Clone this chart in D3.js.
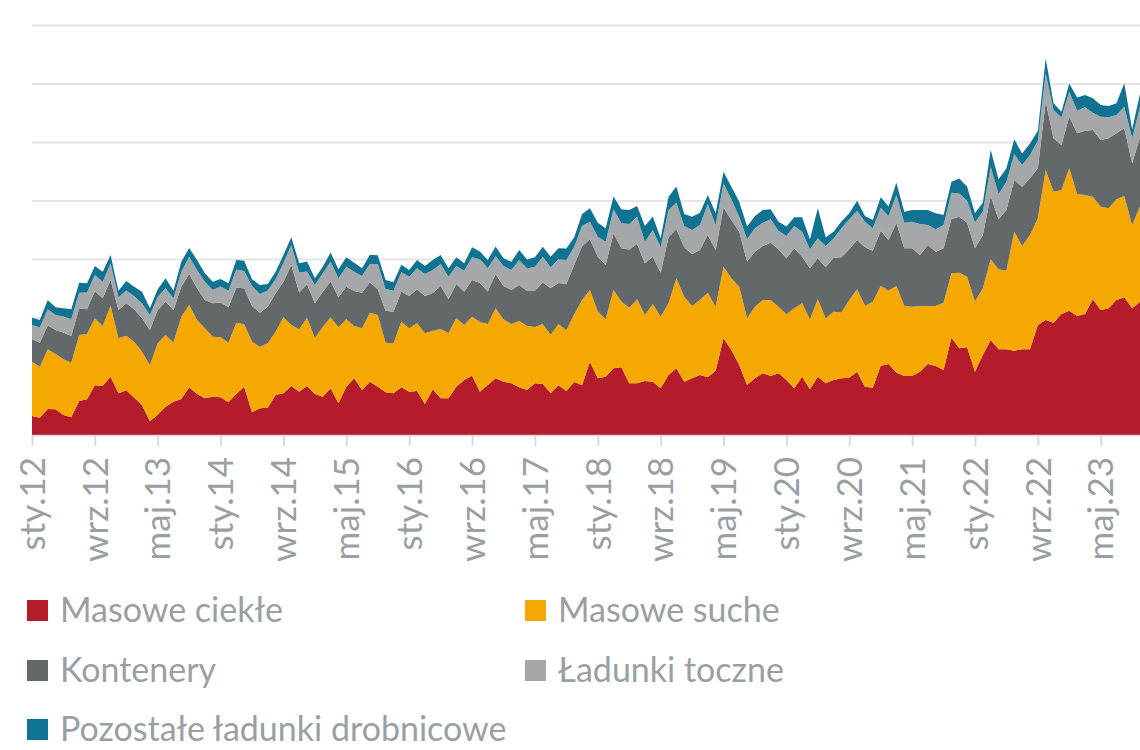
<!DOCTYPE html>
<html>
<head>
<meta charset="utf-8">
<script src="https://cdn.jsdelivr.net/npm/d3@7"></script>
<style>
  html, body { margin: 0; padding: 0; background: #ffffff; }
  svg { display: block; }
  text { font-family: Lato, "Open Sans", "Liberation Sans", sans-serif; }
</style>
</head>
<body>
<svg id="chart" width="1140" height="750"></svg>
<script>
// ---- data (thousand tonnes per month, Jan 2012 – Oct 2023) ----
const monthAbbr = ["sty","lut","mar","kwi","maj","cze","lip","sie","wrz","paź","lis","gru"];
const tickLabels = ["sty.12","wrz.12","maj.13","sty.14","wrz.14","maj.15","sty.16","wrz.16","maj.17",
  "sty.18","wrz.18","maj.19","sty.20","wrz.20","maj.21","sty.22","wrz.22","maj.23"];
const seriesNames = ["Masowe ciekłe","Masowe suche","Kontenery","Ładunki toczne","Pozostałe ładunki drobnicowe"];
const seriesColors = ["#B41B2B","#F5A800","#63686B","#A5A8AB","#0F7391"];

const masoweCiekle = [325,296,444,439,342,302,581,610,849,843,997,712,764,638,513,234,348,484,570,615,815,701,627,655,
  644,558,701,826,387,456,467,684,712,838,741,838,701,655,798,541,826,969,769,912,826,729,712,815,
  741,752,530,781,627,627,826,940,1014,741,855,969,912,883,815,769,883,872,712,849,752,906,849,
  1254,969,997,1140,1157,883,883,923,912,798,1026,1140,912,969,1026,986,1100,1652,1453,1197,855,969,1054,
  1009,1054,940,798,997,781,997,883,940,969,980,1083,826,809,1185,1214,1066,1009,1009,1083,1214,1179,1111,
  1664,1481,1499,1083,1368,1624,1464,1464,1442,1464,1464,1880,1966,1920,2068,2125,2034,2068,2319,2137,2165,2308,2353,2165,2279];
const masoweSuche = [929,872,1020,946,952,934,1128,1117,1145,1020,1214,940,934,957,912,963,1219,1225,1009,1407,1407,1265,1197,1026,
  1026,1020,1219,1066,1208,1054,1100,1083,1299,1043,1066,1168,952,1197,1214,1299,1151,895,1054,1179,1225,849,855,1123,
  1083,1157,1208,1003,1185,1117,1174,940,1009,1197,1043,1197,1066,1014,1134,1094,963,1026,1003,1048,1037,1157,1459,
  1225,1140,980,1339,1123,1293,1436,1128,1328,1225,1225,1538,1453,1236,1282,1447,1094,1225,1225,1339,1140,1225,1254,
  1299,1140,1123,1368,1254,1197,1322,1111,1168,1123,1328,1407,1385,1470,1362,1254,1481,1202,1185,1123,991,1026,1151,
  1100,1293,1208,1197,1140,1379,1368,1345,2034,1766,1954,1823,2564,2239,2120,2433,2085,2034,1755,1766,1709,1721,1732,1425,1630];
const kontenery = [387,410,410,410,456,462,456,422,462,473,439,484,553,553,570,598,570,570,558,513,530,541,484,570,
  593,604,598,615,610,581,627,655,610,1026,627,570,598,598,610,513,558,598,610,518,439,547,541,513,
  553,581,638,644,735,581,581,570,627,661,553,587,570,581,615,598,621,707,798,701,792,843,920,
  866,940,929,969,912,997,946,883,809,752,1128,838,843,889,855,986,969,1014,997,940,969,940,923,
  980,980,957,1026,798,872,701,872,923,946,866,843,997,872,946,866,1083,980,997,872,1043,929,929,
  929,957,923,912,912,1083,855,1037,883,1014,969,855,1168,912,769,883,1037,1100,1140,1140,1197,1128,1157,1054,1180];
const ladunkiToczne = [239,262,274,256,274,285,268,285,279,285,285,217,217,228,256,256,228,228,199,256,296,313,313,228,
  274,285,313,296,342,319,274,239,325,342,342,217,313,313,342,325,342,330,285,313,433,370,359,330,
  330,359,376,393,376,382,308,359,387,405,399,308,342,342,427,387,410,444,353,405,410,313,350,
  302,342,399,410,427,433,467,370,456,433,467,456,365,410,427,530,427,410,353,256,382,399,399,
  399,319,382,382,427,325,342,365,330,496,513,501,439,382,393,410,473,439,456,530,342,382,399,
  450,399,376,439,399,501,433,484,444,370,399,473,484,484,473,427,387,399,296,399,359,313,370,427,520];
const pozostale = [125,125,160,131,142,165,171,160,154,171,142,114,165,160,199,114,125,171,131,171,148,171,142,142,
  131,125,160,177,114,154,114,131,131,131,160,171,114,114,154,154,160,154,131,160,148,154,142,131,
  114,142,137,171,154,142,148,125,171,131,142,160,131,142,171,154,160,171,182,188,199,160,200,
  228,239,228,217,239,239,182,268,228,154,228,274,205,228,211,154,199,199,217,256,217,211,217,
  171,154,160,148,245,171,513,148,114,114,103,171,97,142,177,160,211,188,199,239,256,274,171,
  188,256,239,160,154,285,251,228,251,199,199,171,256,114,97,142,228,211,245,199,194,199,399,154,220];

const seriesValues = [masoweCiekle, masoweSuche, kontenery, ladunkiToczne, pozostale];
const months = masoweCiekle.map((_, i) => monthAbbr[i % 12] + "." + String(12 + Math.floor(i / 12)));
const gridValues = [1000,2000,3000,4000,5000,6000,7000];

// ---- build table ----
const table = months.map((m, i) => {
  const row = { idx: i, month: m };
  seriesNames.forEach((s, k) => row[s] = seriesValues[k][i]);
  return row;
});

const svg = d3.select("#chart");
const x = d3.scaleLinear().domain([0, months.length - 1]).range([32, 1140]);
const y = d3.scaleLinear().domain([0, 7000]).range([435, 25.5]);

// gridlines
svg.append("g").selectAll("line").data(gridValues).join("line")
  .attr("x1", 32).attr("x2", 1140)
  .attr("y1", d => y(d)).attr("y2", d => y(d))
  .attr("stroke", "#E5E5E5").attr("stroke-width", 2);

// stacked areas
const stack = d3.stack().keys(seriesNames);
const layers = stack(table);
const area = d3.area()
  .x(d => x(d.data.idx))
  .y0(d => y(d[0]))
  .y1(d => y(d[1]));
svg.append("g").selectAll("path").data(layers).join("path")
  .attr("d", area)
  .attr("fill", (d, i) => seriesColors[i]);

// x axis
const tickIdx = tickLabels.map(t => months.indexOf(t));
const xAxis = d3.axisBottom(x)
  .tickValues(tickIdx)
  .tickFormat(d => months[d])
  .tickSize(11)
  .tickSizeOuter(0);
const gx = svg.append("g").attr("transform", "translate(0,435)").call(xAxis);
gx.select(".domain").attr("stroke", "#D9D9D9").attr("stroke-width", 1.5);
gx.selectAll(".tick line").attr("stroke", "#D9D9D9").attr("stroke-width", 2);
gx.selectAll(".tick text")
  .attr("fill", "#999FA3")
  .attr("font-size", 35)
  .attr("text-anchor", "end")
  .attr("dy", "0.35em")
  .attr("transform", "translate(0,22) rotate(-90)")
  .attr("x", 0).attr("y", 0);

// legend
const legendPos = [
  {x: 27, y: 610}, {x: 525, y: 610},
  {x: 27, y: 670}, {x: 525, y: 670},
  {x: 27, y: 729}
];
const lg = svg.append("g").selectAll("g").data(seriesNames).join("g")
  .attr("transform", (d, i) => `translate(${legendPos[i].x},${legendPos[i].y})`);
lg.append("rect").attr("x", 0).attr("y", -10).attr("width", 21).attr("height", 21)
  .attr("fill", (d, i) => seriesColors[i]);
lg.append("text").attr("x", 33).attr("y", 0).attr("dy", "0.35em")
  .attr("font-size", 34).attr("fill", "#999FA3").text(d => d);
</script>
</body>
</html>
